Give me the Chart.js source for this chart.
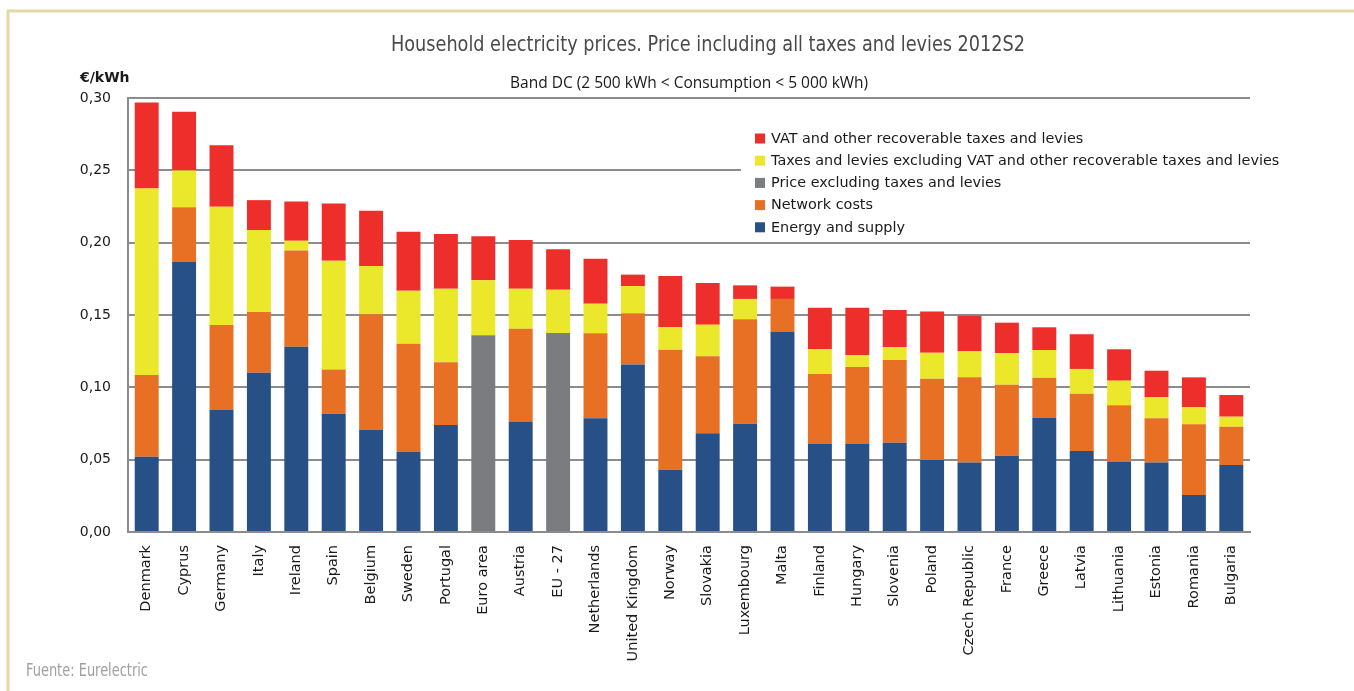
<!DOCTYPE html>
<html>
<head>
<meta charset="utf-8">
<script src="https://cdn.jsdelivr.net/npm/chart.js"></script>
<style>
  html, body { margin: 0; padding: 0; background: #ffffff; }
  #wrap { width: 1354px; height: 691px; position: relative; }
</style>
</head>
<body>
<div id="wrap"><canvas id="priceChart" width="1354" height="691"></canvas></div>
<script>
(function() {
'use strict';

const countries = ['Denmark', 'Cyprus', 'Germany', 'Italy', 'Ireland', 'Spain', 'Belgium', 'Sweden',
  'Portugal', 'Euro area', 'Austria', 'EU - 27', 'Netherlands', 'United Kingdom', 'Norway', 'Slovakia',
  'Luxembourg', 'Malta', 'Finland', 'Hungary', 'Slovenia', 'Poland', 'Czech Republic', 'France',
  'Greece', 'Latvia', 'Lithuania', 'Estonia', 'Romania', 'Bulgaria'];

const energySupply = [0.0520, 0.1866, 0.0843, 0.1100, 0.1280, 0.0818, 0.0705, 0.0555,
  0.0740, null, 0.0763, null, 0.0786, 0.1157, 0.0431, 0.0682,
  0.0749, 0.1382, 0.0608, 0.0608, 0.0617, 0.0498, 0.0481, 0.0527,
  0.0788, 0.0560, 0.0488, 0.0481, 0.0256, 0.0463];

const networkCosts = [0.0565, 0.0378, 0.0588, 0.0420, 0.0666, 0.0306, 0.0800, 0.0747,
  0.0433, null, 0.0642, null, 0.0587, 0.0355, 0.0829, 0.0532,
  0.0721, 0.0229, 0.0484, 0.0533, 0.0572, 0.0562, 0.0588, 0.0491,
  0.0279, 0.0396, 0.0388, 0.0305, 0.0488, 0.0265];

const priceExclTaxes = [null, null, null, null, null, null, null, null,
  null, 0.1360, null, 0.1376, null, null, null, null,
  null, null, null, null, null, null, null, null,
  null, null, null, null, null, null];

const taxesExclVat = [0.1290, 0.0254, 0.0818, 0.0567, 0.0067, 0.0751, 0.0334, 0.0366,
  0.0509, 0.0380, 0.0277, 0.0299, 0.0205, 0.0188, 0.0157, 0.0219,
  0.0141, 0.0000, 0.0173, 0.0080, 0.0090, 0.0179, 0.0180, 0.0219,
  0.0191, 0.0171, 0.0170, 0.0147, 0.0118, 0.0069];

const vatTaxes = [0.0594, 0.0407, 0.0424, 0.0207, 0.0272, 0.0395, 0.0382, 0.0408,
  0.0378, 0.0304, 0.0336, 0.0279, 0.0311, 0.0079, 0.0353, 0.0288,
  0.0094, 0.0085, 0.0285, 0.0329, 0.0256, 0.0286, 0.0246, 0.0210,
  0.0157, 0.0240, 0.0217, 0.0182, 0.0207, 0.0150];

const yTicks = ['0,00', '0,05', '0,10', '0,15', '0,20', '0,25', '0,30'];

const gridColor = '#8b8c90';
const labelFont = '"DejaVu Sans", Verdana, sans-serif';
const narrowFont = '"Liberation Sans Narrow", "DejaVu Sans Condensed", "Roboto", sans-serif';

function makeSet(label, data, color) {
  return {
    label: label,
    data: data,
    backgroundColor: color,
    borderWidth: 0,
    categoryPercentage: 1,
    barPercentage: 0.64
  };
}

// text squeezed horizontally to a target width
function fitText(ctx, text, x, y, width) {
  const w = ctx.measureText(text).width;
  const sx = Math.min(1, width / w);
  ctx.save();
  ctx.translate(x, y);
  ctx.scale(sx, 1);
  ctx.fillText(text, 0, 0);
  ctx.restore();
}

// page decoration: frame, titles, unit, footer, legend
const decorations = {
  id: 'decorations',
  beforeDraw: function(chart) {
    const ctx = chart.ctx;
    ctx.save();
    ctx.fillStyle = '#ffffff';
    ctx.fillRect(0, 0, chart.width, chart.height);
    ctx.strokeStyle = '#e7d6a8';
    ctx.lineWidth = 3;
    ctx.beginPath();
    ctx.moveTo(8, chart.height);
    ctx.lineTo(8, 11);
    ctx.lineTo(chart.width, 11);
    ctx.stroke();
    ctx.restore();
  },
  afterDraw: function(chart) {
    const ctx = chart.ctx;
    ctx.save();
    ctx.textBaseline = 'alphabetic';
    ctx.textAlign = 'left';

    ctx.fillStyle = '#4a4a4a';
    ctx.font = '300 21px ' + narrowFont;
    fitText(ctx, 'Household electricity prices. Price including all taxes and levies 2012S2', 391, 51, 634);

    ctx.fillStyle = '#1a1a1a';
    ctx.font = '15.5px "Open Sans", sans-serif';
    fitText(ctx, 'Band DC (2 500 kWh < Consumption < 5 000 kWh)', 510, 88, 380);

    ctx.font = 'bold 14px ' + labelFont;
    ctx.fillText('\u20ac/kWh', 80, 82);

    ctx.fillStyle = '#a0a0a0';
    ctx.font = '300 18px ' + narrowFont;
    fitText(ctx, 'Fuente: Eurelectric', 26, 676, 122);

    // legend, reverse of stacking order
    ctx.fillStyle = '#ffffff';
    ctx.fillRect(741, 124, 562, 114);
    const sets = chart.data.datasets.slice().reverse();
    ctx.font = '14.4px ' + labelFont;
    ctx.textBaseline = 'middle';
    sets.forEach(function(ds, i) {
      const y = 138.5 + i * 22.2;
      ctx.fillStyle = ds.backgroundColor;
      ctx.fillRect(755, y - 5, 10, 10);
      ctx.fillStyle = '#1a1a1a';
      ctx.fillText(ds.label, 771, y + 0.5);
    });
    ctx.restore();
  }
};

const ctx = document.getElementById('priceChart');

new Chart(ctx, {
  type: 'bar',
  data: {
    labels: countries,
    datasets: [
      makeSet('Energy and supply', energySupply, '#265086'),
      makeSet('Network costs', networkCosts, '#e87025'),
      makeSet('Price excluding taxes and levies', priceExclTaxes, '#7b7c80'),
      makeSet('Taxes and levies excluding VAT and other recoverable taxes and levies', taxesExclVat, '#ebe72a'),
      makeSet('VAT and other recoverable taxes and levies', vatTaxes, '#ee2e2a')
    ]
  },
  options: {
    responsive: false,
    animation: false,
    layout: {
      padding: { left: 0, top: 98, right: 104, bottom: 0 }
    },
    plugins: {
      legend: { display: false },
      title: { display: false },
      tooltip: { enabled: false }
    },
    scales: {
      x: {
        stacked: true,
        grid: { display: false, drawTicks: false },
        border: { display: true, color: gridColor, width: 2 },
        ticks: {
          autoSkip: false,
          minRotation: 90,
          maxRotation: 90,
          padding: 13,
          color: '#1a1a1a',
          font: { family: labelFont, size: 14.5 }
        },
        afterFit: function(scale) { scale.height = 159; }
      },
      y: {
        stacked: true,
        min: 0,
        max: 0.30,
        grid: { color: gridColor, lineWidth: 2, drawTicks: false },
        border: { display: true, color: gridColor, width: 2 },
        ticks: {
          stepSize: 0.05,
          padding: 17,
          color: '#1a1a1a',
          font: { family: labelFont, size: 14 },
          callback: function(value) {
            return yTicks[Math.round(value / 0.05)];
          }
        },
        afterFit: function(scale) { scale.width = 128; }
      }
    }
  },
  plugins: [decorations]
});

})();
</script>
</body>
</html>
